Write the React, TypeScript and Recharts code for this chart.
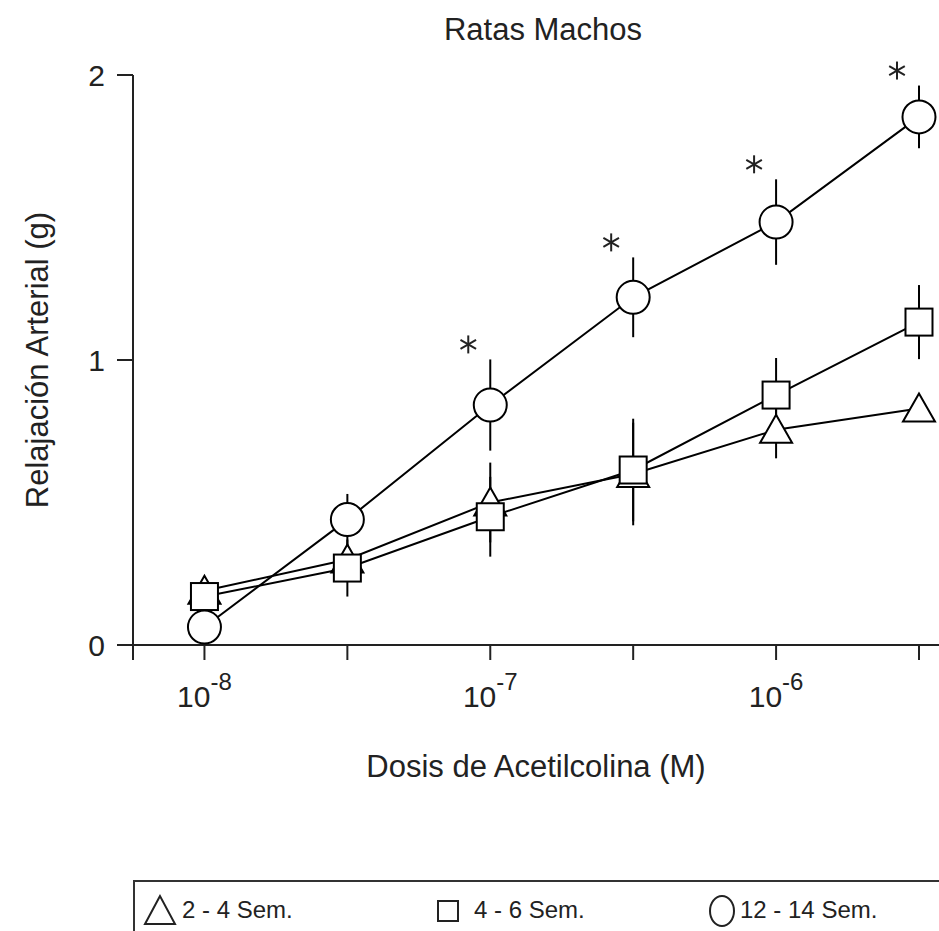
import React from "react";
import { LineChart, Line, XAxis, YAxis, ErrorBar } from "recharts";

// log10 of acetylcholine dose (M)
const doses = [-8, -7.5, -7, -6.5, -6, -5.5];
const xTicks = [-8.25, -8, -7.5, -7, -6.5, -6, -5.5];
const yTicks = [0, 1, 2];

// 2 - 4 semanas
const tri = [0.19, 0.3, 0.5, 0.6, 0.755, 0.83];
const triErr = [0, 0.04, 0.14, 0.18, 0.1, 0];
// 4 - 6 semanas
const sq = [0.17, 0.27, 0.45, 0.614, 0.877, 1.133];
const sqErr = [0.03, 0.1, 0.14, 0.18, 0.13, 0.13];
// 12 - 14 semanas
const circ = [0.063, 0.44, 0.842, 1.22, 1.484, 1.853];
const circErr = [0.03, 0.09, 0.16, 0.14, 0.15, 0.11];
const significant = [false, false, true, true, true, true];

const FONT = '"Liberation Sans", Arial, Helvetica, sans-serif';

const data = doses.map((d, i) => ({
  dose: d,
  tri: tri[i],
  triErr: triErr[i],
  sq: sq[i],
  sqErr: sqErr[i],
  circ: circ[i],
  circErr: circErr[i],
  star: significant[i] ? circ[i] + circErr[i] : null,
}));

const TriangleDot = (p: any) => {
  const { cx, cy, index } = p;
  if (cx == null || cy == null) return <g key={"t" + index} />;
  return (
    <polygon
      key={"t" + index}
      points={`${cx},${cy - 15} ${cx - 16},${cy + 13} ${cx + 16},${cy + 13}`}
      fill="#fff"
      stroke="#000"
      strokeWidth={2}
    />
  );
};

const SquareDot = (p: any) => {
  const { cx, cy, index } = p;
  if (cx == null || cy == null) return <g key={"s" + index} />;
  return (
    <rect key={"s" + index} x={cx - 13.5} y={cy - 13.5} width={27} height={27} fill="#fff" stroke="#000" strokeWidth={2} />
  );
};

const CircleDot = (p: any) => {
  const { cx, cy, index } = p;
  if (cx == null || cy == null) return <g key={"c" + index} />;
  return <circle key={"c" + index} cx={cx} cy={cy} r={16.5} fill="#fff" stroke="#000" strokeWidth={2} />;
};

const StarDot = (p: any) => {
  const { cx, cy, index, payload } = p;
  if (cx == null || cy == null || payload.star == null) return <g key={"a" + index} />;
  const x = cx - 22;
  const y = cy - 15;
  const r = 9;
  const arms = [90, 30, -30].map((a) => {
    const rad = (a * Math.PI) / 180;
    return (
      <line
        key={a}
        x1={x - r * Math.cos(rad)}
        y1={y - r * Math.sin(rad)}
        x2={x + r * Math.cos(rad)}
        y2={y + r * Math.sin(rad)}
        stroke="#222"
        strokeWidth={2}
      />
    );
  });
  return <g key={"a" + index}>{arms}</g>;
};

const DoseTick = (props: any) => {
  const { x, y, payload } = props;
  const v = payload.value;
  if (!Number.isInteger(v)) return <g />;
  return (
    <text x={x} y={y + 47} textAnchor="middle" fontSize={30} fontFamily={FONT} fill="#222">
      <tspan>10</tspan>
      <tspan dy={-17} fontSize={24}>
        {String(v)}
      </tspan>
    </text>
  );
};

export default function App() {
  return (
    <div style={{ position: "absolute", left: 0, top: 0, width: 939, height: 931, overflow: "hidden", background: "#fff" }}>
      <div
        style={{
          position: "absolute",
          left: 0,
          width: 1086,
          top: 12,
          textAlign: "center",
          fontFamily: FONT,
          fontSize: 31,
          color: "#222",
        }}
      >
        Ratas Machos
      </div>
      <LineChart width={939} height={931} data={data} margin={{ top: 75, right: 0, left: 0, bottom: 146 }}>
        <XAxis
          dataKey="dose"
          type="number"
          domain={[-8.25, -5.43]}
          ticks={xTicks}
          tick={<DoseTick />}
          tickSize={15}
          tickMargin={0}
          height={140}
          stroke="#222"
          strokeWidth={2}
          allowDataOverflow
          label={{
            value: "Dosis de Acetilcolina (M)",
            position: "insideBottom",
            offset: 8,
            style: { fontFamily: FONT, fontSize: 31, fill: "#222" },
          }}
        />
        <YAxis
          type="number"
          domain={[0, 2]}
          ticks={yTicks}
          width={133}
          tickSize={16}
          tickMargin={12}
          stroke="#222"
          strokeWidth={2}
          tick={{ fontFamily: FONT, fontSize: 30, fill: "#222" }}
          label={{
            value: "Relajación Arterial (g)",
            angle: -90,
            position: "insideLeft",
            offset: 37,
            style: { textAnchor: "middle", fontFamily: FONT, fontSize: 31, fill: "#222" },
          }}
        />
        {/* error bars first so markers cover them */}
        <Line dataKey="tri" stroke="none" dot={false} activeDot={false} isAnimationActive={false}>
          <ErrorBar dataKey="triErr" direction="y" width={0} stroke="#000" strokeWidth={2} />
        </Line>
        <Line dataKey="sq" stroke="none" dot={false} activeDot={false} isAnimationActive={false}>
          <ErrorBar dataKey="sqErr" direction="y" width={0} stroke="#000" strokeWidth={2} />
        </Line>
        <Line dataKey="circ" stroke="none" dot={false} activeDot={false} isAnimationActive={false}>
          <ErrorBar dataKey="circErr" direction="y" width={0} stroke="#000" strokeWidth={2} />
        </Line>
        <Line dataKey="tri" type="linear" stroke="#000" strokeWidth={2} dot={<TriangleDot />} activeDot={false} isAnimationActive={false} />
        <Line dataKey="sq" type="linear" stroke="#000" strokeWidth={2} dot={<SquareDot />} activeDot={false} isAnimationActive={false} />
        <Line dataKey="circ" type="linear" stroke="#000" strokeWidth={2} dot={<CircleDot />} activeDot={false} isAnimationActive={false} />
        <Line dataKey="star" stroke="none" dot={<StarDot />} activeDot={false} isAnimationActive={false} />
      </LineChart>
      <div
        style={{
          position: "absolute",
          left: 133,
          top: 880,
          width: 860,
          height: 80,
          border: "2px solid #333",
          boxSizing: "border-box",
          fontFamily: FONT,
          fontSize: 24,
          color: "#222",
        }}
      >
        <svg width={36} height={34} style={{ position: "absolute", left: 7, top: 11 }}>
          <polygon points="18,3 3,31 33,31" fill="#fff" stroke="#222" strokeWidth={2} />
        </svg>
        <span style={{ position: "absolute", left: 47, top: 14 }}>2 - 4 Sem.</span>
        <svg width={24} height={24} style={{ position: "absolute", left: 301, top: 17 }}>
          <rect x={2} y={2} width={20} height={20} fill="#fff" stroke="#222" strokeWidth={2} />
        </svg>
        <span style={{ position: "absolute", left: 339, top: 14 }}>4 - 6 Sem.</span>
        <svg width={30} height={36} style={{ position: "absolute", left: 572, top: 11 }}>
          <ellipse cx={15} cy={18} rx={12} ry={15} fill="#fff" stroke="#222" strokeWidth={2} />
        </svg>
        <span style={{ position: "absolute", left: 605, top: 14 }}>12 - 14 Sem.</span>
      </div>
    </div>
  );
}
